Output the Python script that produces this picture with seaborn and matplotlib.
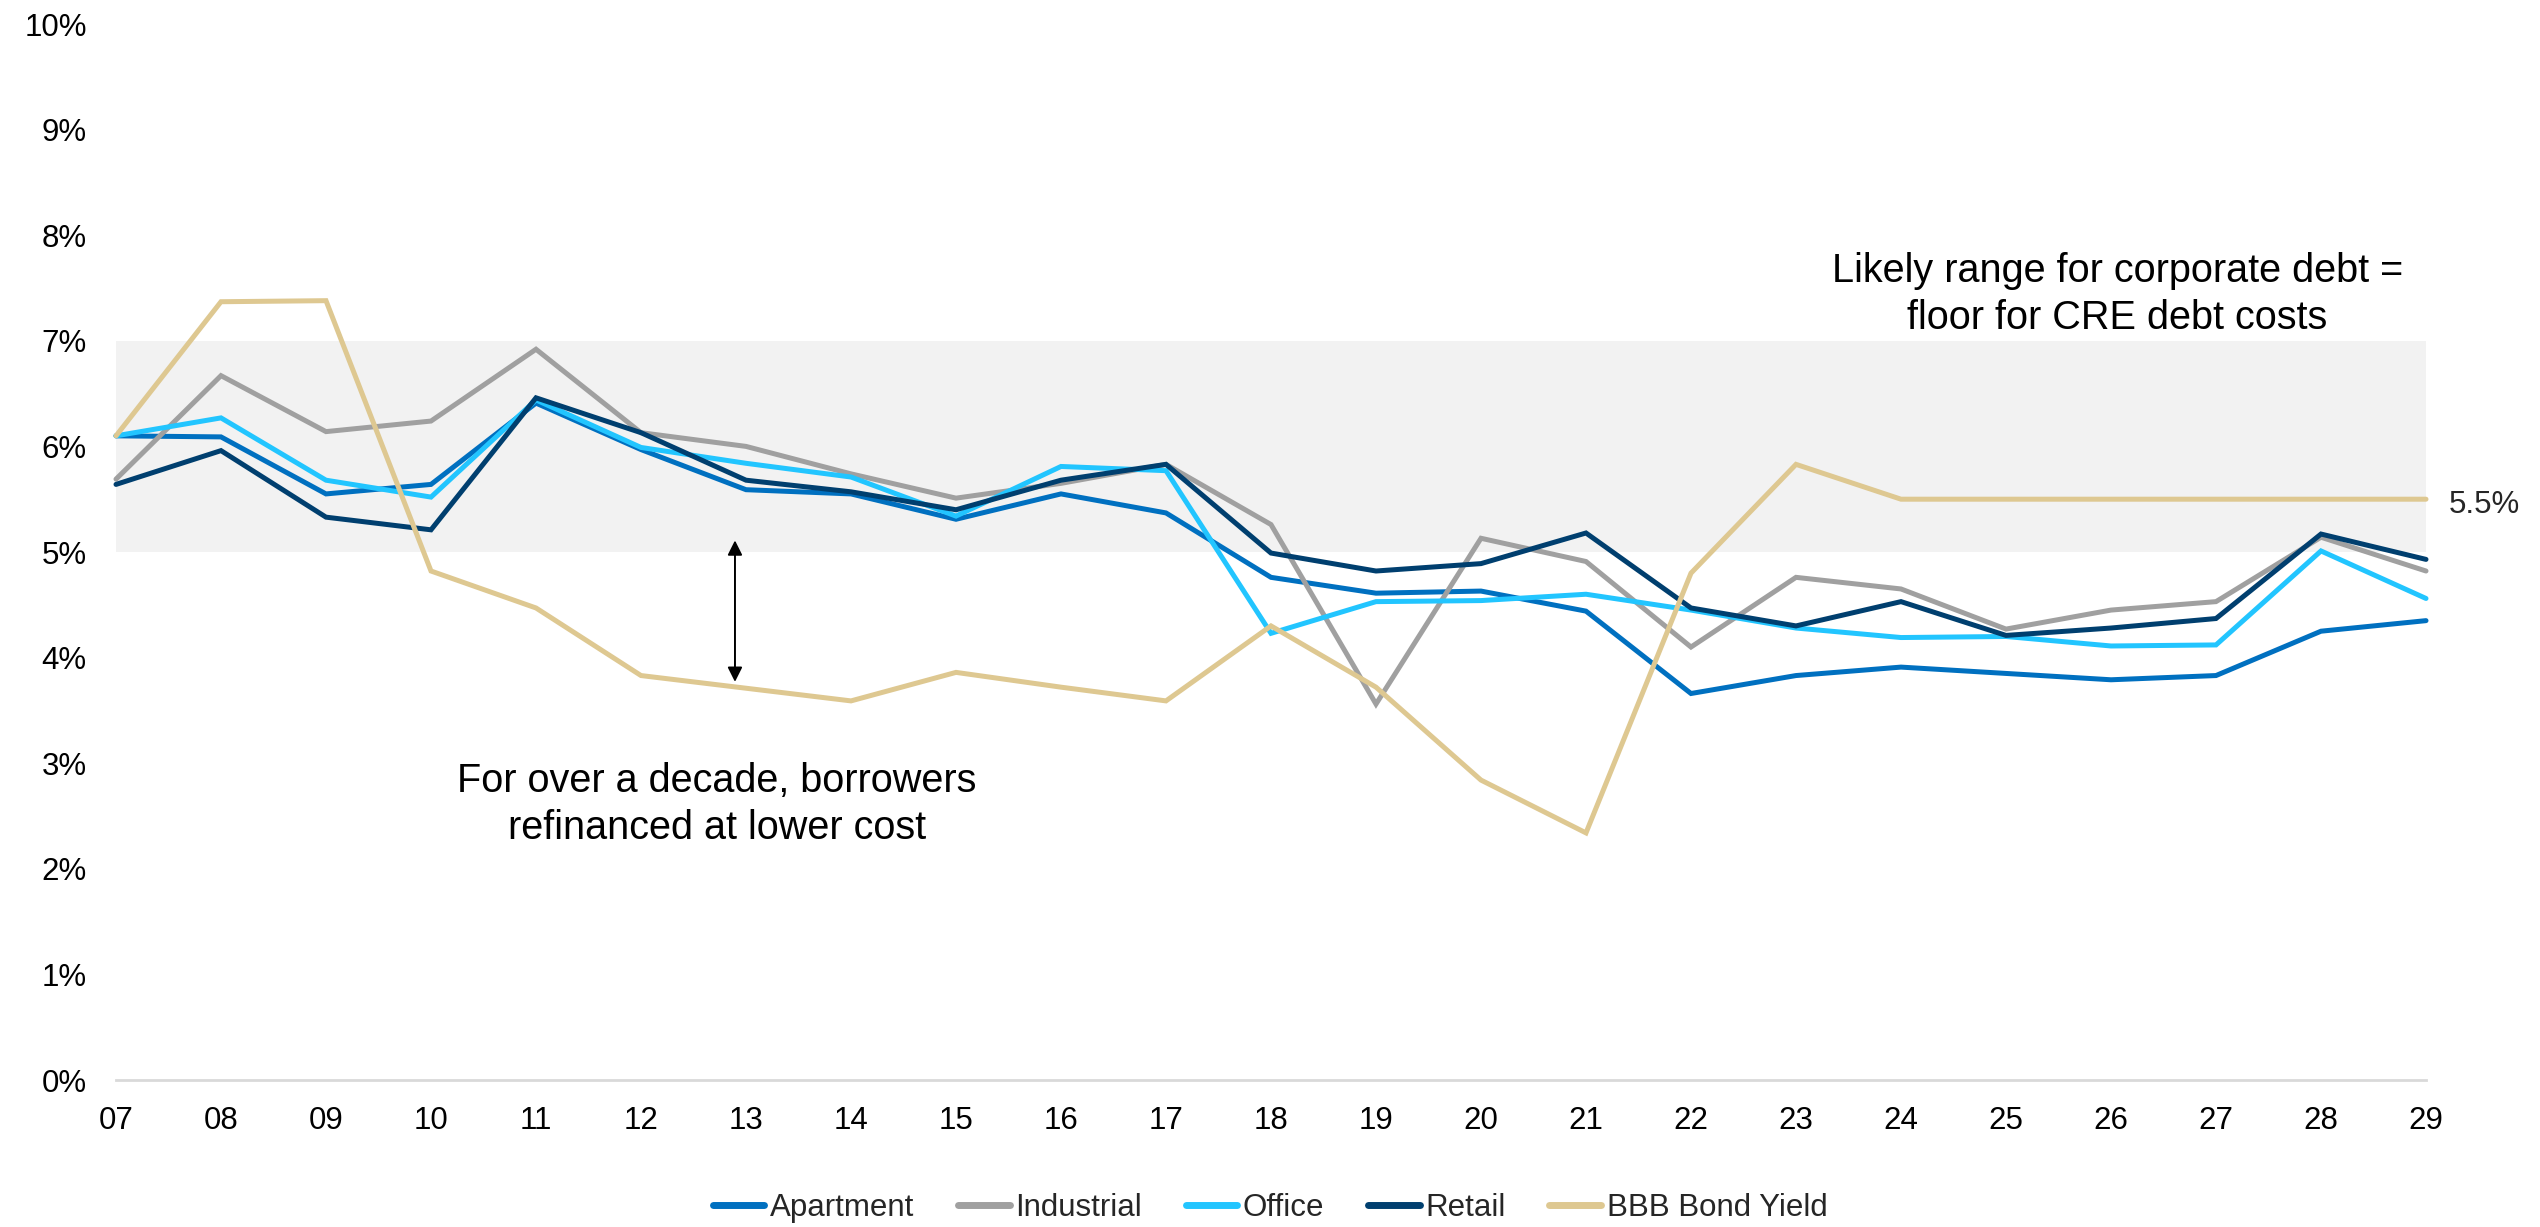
import matplotlib
matplotlib.use("Agg")
import matplotlib.pyplot as plt
import seaborn as sns
import pandas as pd
import numpy as np

# Years (two-digit labels) along the horizontal axis
years = ["07", "08", "09", "10", "11", "12", "13", "14", "15", "16", "17", "18",
         "19", "20", "21", "22", "23", "24", "25", "26", "27", "28", "29"]

# Debt cost by property type, percent
apartment = [6.10, 6.09, 5.55, 5.64, 6.41, 5.97, 5.59, 5.55, 5.31, 5.55, 5.37, 4.76,
             4.61, 4.63, 4.44, 3.66, 3.83, 3.91, 3.85, 3.79, 3.83, 4.25, 4.35]
industrial = [5.69, 6.67, 6.14, 6.24, 6.92, 6.13, 6.00, 5.74, 5.51, 5.65, 5.83, 5.26,
              3.56, 5.13, 4.91, 4.10, 4.76, 4.65, 4.27, 4.45, 4.53, 5.14, 4.82]
office = [6.10, 6.27, 5.68, 5.52, 6.44, 5.99, 5.84, 5.71, 5.34, 5.81, 5.77, 4.23,
          4.53, 4.54, 4.60, 4.45, 4.28, 4.19, 4.20, 4.11, 4.12, 5.01, 4.56]
retail = [5.64, 5.96, 5.33, 5.21, 6.46, 6.13, 5.68, 5.57, 5.40, 5.68, 5.83, 4.99,
          4.82, 4.89, 5.18, 4.47, 4.30, 4.53, 4.21, 4.28, 4.37, 5.17, 4.93]
bbb_yield = [6.10, 7.37, 7.38, 4.82, 4.47, 3.83, 3.71, 3.59, 3.86, 3.72, 3.59, 4.30,
             3.72, 2.84, 2.34, 4.80, 5.83, 5.50, 5.50, 5.50, 5.50, 5.50, 5.50]

series_names = ["Apartment", "Industrial", "Office", "Retail", "BBB Bond Yield"]
series_values = [apartment, industrial, office, retail, bbb_yield]
colors = ["#0070C0", "#A0A0A0", "#22C5FF", "#003F6F", "#DEC891"]

# Shaded corporate-debt band and the final bond-yield label
band_low, band_high = 5.0, 7.0
final_yield_label = "5.5%"

y_ticks = list(range(0, 11))

records = []
for name, vals in zip(series_names, series_values):
    for i, v in enumerate(vals):
        records.append({"idx": i, "year": years[i], "value": v, "series": name})
df = pd.DataFrame(records)

sns.set_theme(style="white")
plt.rcParams["font.family"] = ["Liberation Sans", "DejaVu Sans"]

W, H = 2540, 1227
fig = plt.figure(figsize=(W / 100, H / 100), dpi=100)
x0, x1 = 116, 2426
y0, y1 = 1080, 24
ax = fig.add_axes([x0 / W, 1 - y0 / H, (x1 - x0) / W, (y0 - y1) / H])

ax.axhspan(band_low, band_high, color="#F2F2F2", zorder=0, lw=0)

sns.lineplot(data=df, x="idx", y="value", hue="series", hue_order=series_names,
             palette=dict(zip(series_names, colors)), linewidth=3.6, ax=ax,
             legend=False, sort=False)
for ln in ax.lines:
    ln.set_clip_on(False)
    ln.set_solid_capstyle("round")
    ln.set_solid_joinstyle("miter")

ax.set_xlim(0, len(years) - 1)
ax.set_ylim(0, 10)
ax.set_xticks(range(len(years)))
ax.set_xticklabels(years)
ax.set_yticks(y_ticks)
ax.set_yticklabels([f"{t}%" for t in y_ticks])
ax.set_xlabel("")
ax.set_ylabel("")
ax.tick_params(axis="both", length=0, labelsize=22.5, colors="black")
ax.tick_params(axis="y", pad=21)
ax.tick_params(axis="x", pad=19)
for s in ["left", "right", "top"]:
    ax.spines[s].set_visible(False)
ax.spines["bottom"].set_color("#D9D9D9")
ax.spines["bottom"].set_linewidth(2)
ax.grid(False)

# Text annotations
ax.text(19.06, 7.554, "Likely range for corporate debt =", ha="center", va="baseline",
        fontsize=28.5, color="black")
ax.text(19.06, 7.108, "floor for CRE debt costs", ha="center", va="baseline",
        fontsize=28.5, color="black")
ax.text(5.72, 2.731, "For over a decade, borrowers", ha="center", va="baseline",
        fontsize=28.5, color="black")
ax.text(5.72, 2.285, "refinanced at lower cost", ha="center", va="baseline",
        fontsize=28.5, color="black")

ax.annotate("", xy=(5.895, 5.11), xytext=(5.895, 3.77),
            arrowprops=dict(arrowstyle="<|-|>", color="black", lw=1.4,
                            mutation_scale=22, shrinkA=0, shrinkB=0))

ax.annotate(final_yield_label, xy=(len(years) - 1, bbb_yield[-1]), xytext=(16, -4),
            textcoords="offset points", ha="left", va="center", fontsize=22.5,
            annotation_clip=False)

handles = [plt.Line2D([], [], color=c, lw=5, solid_capstyle="round") for c in colors]
fig.legend(handles, series_names, loc="center", bbox_to_anchor=(0.5, 1 - 1208 / H),
           ncol=5, frameon=False, fontsize=22.5, handlelength=1.65,
           handletextpad=0.18, columnspacing=1.4)

fig.savefig("out.png", dpi=100)
